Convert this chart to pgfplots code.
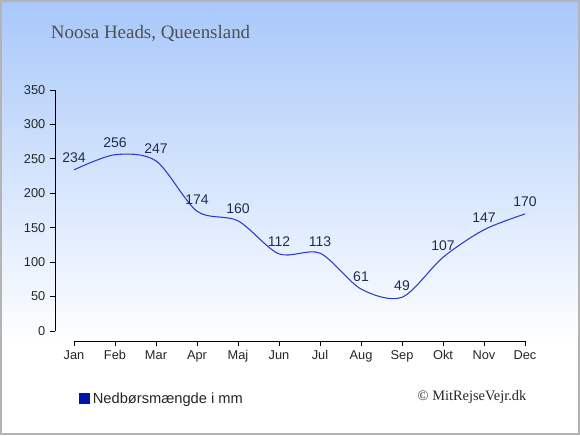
\documentclass[border=0pt]{standalone}
\usepackage{pgfplots}
\pgfplotsset{compat=1.18}
\usepackage{fontspec}
\setmainfont{Liberation Serif}
\setsansfont{Liberation Sans}
\definecolor{bgtop}{RGB}{168,200,250}
\definecolor{linecol}{RGB}{45,60,200}
\definecolor{legcol}{RGB}{0,20,170}
\definecolor{labcol}{RGB}{30,45,80}
\definecolor{titlecol}{RGB}{80,80,80}
\definecolor{bordercol}{RGB}{180,180,180}
\begin{document}
\begin{tikzpicture}
\fill[white] (0,0) rectangle (435pt,326.25pt);
\shade[top color=bgtop, bottom color=white] (0,67.5pt) rectangle (435pt,326.25pt);
\draw[bordercol, line width=1.2pt] (0.6pt,0.6pt) rectangle (434.4pt,325.65pt);
\node[anchor=west, text=titlecol, font=\fontsize{14.2}{17}\selectfont, inner sep=0] at (38pt,300.8pt) {Noosa Heads, Queensland};
\node[font=\fontsize{10.8}{13}\selectfont, inner sep=0, text=black!85] at (354pt,28.5pt) {© MitRejseVejr.dk};
\begin{axis}[
  at={(55.5pt,78pt)}, anchor=south west,
  scale only axis, width=338.25pt, height=180.75pt,
  xmin=0, xmax=11, ymin=0, ymax=350,
  axis x line*=bottom, axis y line*=left,
  axis x line shift=7.5pt, axis y line shift=14.25pt,
  xtick={0,...,11},
  xticklabels={Jan,Feb,Mar,Apr,Maj,Jun,Jul,Aug,Sep,Okt,Nov,Dec},
  ytick={0,50,...,350},
  tick align=outside, major tick length=3.75pt,
  tick style={black, line width=0.75pt},
  axis line style={black, line width=0.75pt},
  tick label style={font=\sffamily\fontsize{9.6}{11}\selectfont, text=black!85},
  /pgf/number format/assume math mode=true,
  clip=false,
  legend style={at={(axis description cs:0.002,-0.282)}, anchor=west, draw=none, fill=none,
    font=\sffamily\fontsize{11}{13}\selectfont, text=black!85},
  legend image code/.code={\fill[legcol] (0pt,-3.75pt) rectangle (7.5pt,3.75pt);},
  nodes near coords,
  nodes near coords style={anchor=south, yshift=1.5pt, font=\sffamily\fontsize{10.5}{12}\selectfont, text=labcol},
]
\addplot[linecol, line width=0.8pt, smooth] coordinates {
  (0,234)(1,256)(2,247)(3,174)(4,160)(5,112)(6,113)(7,61)(8,49)(9,107)(10,147)(11,170)};
\addlegendentry{Nedbørsmængde i mm}
\end{axis}
\end{tikzpicture}
\end{document}
